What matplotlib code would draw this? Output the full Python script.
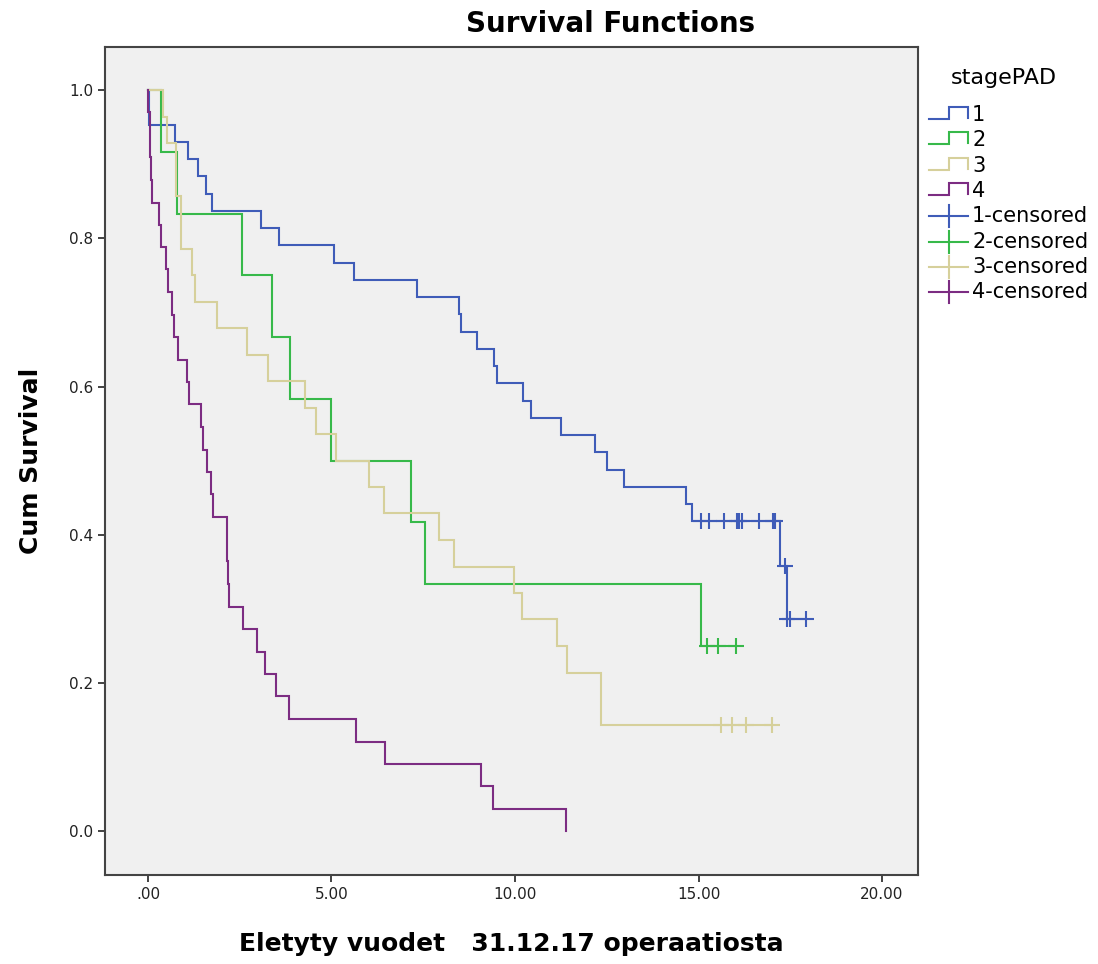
import matplotlib
matplotlib.use("Agg")
import matplotlib.pyplot as plt

# ---------------- data ----------------
groups = ["1", "2", "3", "4"]
colors = ["#3f5cb8", "#37b94a", "#d6d09b", "#7c2c82"]

# event times and survival after each step
g1_t = [0.0, 0.02, 0.75, 1.10, 1.37, 1.58, 1.75, 3.07, 3.57, 5.08, 5.62, 7.32, 8.47, 8.53,
        8.96, 9.43, 9.50, 10.23, 10.44, 11.24, 12.17, 12.50, 12.97, 14.66, 14.81, 17.22, 17.42]
g1_s = [1.0, 0.953, 0.930, 0.907, 0.884, 0.860, 0.837, 0.814, 0.791, 0.767, 0.744, 0.721, 0.698,
        0.674, 0.651, 0.628, 0.605, 0.581, 0.558, 0.535, 0.512, 0.488, 0.465, 0.442, 0.419, 0.358, 0.287]
g1_end = 17.93
g1_cens_t = [15.06, 15.29, 15.70, 16.04, 16.10, 16.19, 16.65, 17.04, 17.08, 17.36, 17.42, 17.49, 17.93]
g1_cens_s = [0.419] * 9 + [0.358] + [0.287] * 3

g2_t = [0.0, 0.35, 0.78, 2.56, 3.38, 3.87, 4.98, 7.17, 7.55, 15.06]
g2_s = [1.0, 0.917, 0.833, 0.750, 0.667, 0.583, 0.500, 0.417, 0.333, 0.250]
g2_end = 16.02
g2_cens_t = [15.22, 15.54, 16.02]
g2_cens_s = [0.250] * 3

g3_t = [0.0, 0.40, 0.53, 0.76, 0.90, 1.19, 1.28, 1.89, 2.70, 3.27, 4.28, 4.58, 5.12, 6.02,
        6.43, 7.92, 8.34, 9.97, 10.18, 11.15, 11.43, 12.33]
g3_s = [1.0, 0.964, 0.929, 0.857, 0.786, 0.750, 0.714, 0.679, 0.643, 0.607, 0.571, 0.536, 0.500,
        0.464, 0.429, 0.393, 0.357, 0.321, 0.286, 0.250, 0.214, 0.143]
g3_end = 17.0
g3_cens_t = [15.60, 15.90, 16.30, 17.00]
g3_cens_s = [0.143] * 4

g4_t = [0.0, 0.01, 0.05, 0.06, 0.08, 0.10, 0.30, 0.35, 0.48, 0.55, 0.65, 0.71, 0.82, 1.07, 1.12,
        1.44, 1.49, 1.62, 1.73, 1.78, 2.15, 2.16, 2.19, 2.22, 2.58, 2.98, 3.20, 3.50, 3.84,
        5.68, 6.46, 9.07, 9.41, 11.38]
g4_s = [1.0, 0.970, 0.939, 0.909, 0.879, 0.848, 0.818, 0.788, 0.758, 0.727, 0.697, 0.667, 0.636,
        0.606, 0.576, 0.545, 0.515, 0.485, 0.455, 0.424, 0.394, 0.364, 0.333, 0.303, 0.273,
        0.242, 0.212, 0.182, 0.152, 0.121, 0.091, 0.061, 0.030, 0.0]
g4_end = 11.38
g4_cens_t = []
g4_cens_s = []

x_ticks = [0, 5, 10, 15, 20]
x_tick_labels = [".00", "5.00", "10.00", "15.00", "20.00"]
y_ticks = [0.0, 0.2, 0.4, 0.6, 0.8, 1.0]
y_tick_labels = ["0.0", "0.2", "0.4", "0.6", "0.8", "1.0"]

# ---------------- figure ----------------
W, H = 1098, 964
fig = plt.figure(figsize=(W / 100, H / 100), dpi=100)
fig.patch.set_facecolor("white")

def px_rect(l, t, r, b):
    return [l / W, 1 - b / H, (r - l) / W, (b - t) / H]

ax = fig.add_axes(px_rect(105, 47, 918, 875))
ax.set_facecolor("#f0f0f0")
ax.set_xlim(-1.17, 20.98)
ax.set_ylim(-0.059, 1.058)

series = [
    (g1_t, g1_s, g1_end, g1_cens_t, g1_cens_s),
    (g2_t, g2_s, g2_end, g2_cens_t, g2_cens_s),
    (g3_t, g3_s, g3_end, g3_cens_t, g3_cens_s),
    (g4_t, g4_s, g4_end, g4_cens_t, g4_cens_s),
]
for (t, s, end, ct, cs), c in zip(series, colors):
    tt = list(t) + [end]
    ss = list(s) + [s[-1]]
    ax.step(tt, ss, where="post", color=c, lw=1.5, solid_joinstyle="miter")
    if ct:
        ax.plot(ct, cs, ls="none", marker="+", ms=11, mew=1.5, color=c)

ax.set_xticks(x_ticks)
ax.set_xticklabels(x_tick_labels)
ax.set_yticks(y_ticks)
ax.set_yticklabels(y_tick_labels)
ax.tick_params(direction="out", length=5, width=1.2, labelsize=11, colors="#222222",
               top=False, right=False)
for sp in ax.spines.values():
    sp.set_color("#444444")
    sp.set_linewidth(1.5)

ax.set_xlabel("Eletyty vuodet   31.12.17 operaatiosta", fontsize=18, fontweight="bold",
              labelpad=22)
ax.set_ylabel("Cum Survival", fontsize=18, fontweight="bold", labelpad=19)
fig.text(611 / W, 1 - 24 / H, "Survival Functions", ha="center", va="center",
         fontsize=20, fontweight="bold")

# ---------------- legend (drawn in pixel coordinates) ----------------
lax = fig.add_axes(px_rect(920, 60, 1098, 310))
lax.set_xlim(920, 1098)
lax.set_ylim(310, 60)
lax.axis("off")
lax.text(1004, 78, "stagePAD", ha="center", va="center", fontsize=16)
labels = groups + [g + "-censored" for g in groups]
for i, lab in enumerate(labels):
    y = 115 + i * 25.3
    c = colors[i % 4]
    if i < 4:
        lax.plot([929, 949, 949, 968, 968], [y + 4, y + 4, y - 8, y - 8, y + 3],
                 color=c, lw=1.5, solid_joinstyle="miter")
    else:
        lax.plot([929, 968], [y, y], color=c, lw=1.5)
        lax.plot([949, 949], [y - 11, y + 11], color=c, lw=1.5)
    lax.text(972, y, lab, ha="left", va="center", fontsize=15)

fig.savefig("out.png", dpi=100)
